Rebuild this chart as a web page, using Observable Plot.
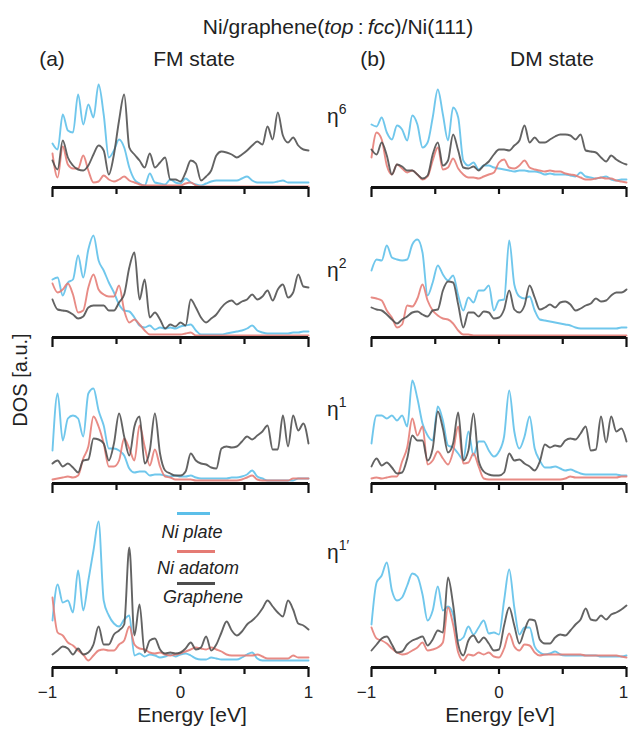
<!DOCTYPE html>
<html><head><meta charset="utf-8">
<script src="https://cdn.jsdelivr.net/npm/d3@7"></script>
<script src="https://cdn.jsdelivr.net/npm/@observablehq/plot@0.6"></script>
<style>
body{margin:0;background:#fff;}
#wrap{position:relative;width:629px;height:733px;font-family:"Liberation Sans",Arial,sans-serif;color:#222;overflow:hidden;background:#fff;}
.t{position:absolute;white-space:nowrap;line-height:1;transform:translate(-50%,-50%);}
.panel{position:absolute;}
.leg{position:absolute;height:3px;}
</style></head><body><div id="wrap"></div>
<script>
// Energy grid (eV)
const energy = [-1,-0.96,-0.92,-0.88,-0.84,-0.8,-0.76,-0.72,-0.68,-0.64,-0.6,-0.56,-0.52,-0.48,-0.44,-0.4,-0.36,-0.32,-0.28,-0.24,-0.2,-0.16,-0.12,-0.08,-0.04,0,0.04,0.08,0.12,0.16,0.2,0.24,0.28,0.32,0.36,0.4,0.44,0.48,0.52,0.56,0.6,0.64,0.68,0.72,0.76,0.8,0.84,0.88,0.92,0.96,1];
const rowLabels = ["6", "2", "1", "1′"];
const stateLabels = ["FM state", "DM state"];
const seriesNames = ["Ni plate", "Ni adatom", "Graphene"];
const seriesColors = ["#5cbfe9", "#e57b74", "#4d4d4d"];
const endTicks = [-1, 1];
const midTicks = [-0.5, 0, 0.5];
const tickLabelValues = [-1, 0, 1];
const tickLabels = ["−1", "0", "1"];

// DOS values (a.u.), FM state
const fmEta6Plate = [44,38,73,57,55,93,63,83,70,103, 73,30,37,48,40,20,8,4,2,14, 5,4,3,8,5,4,9,5,3,2, 4,6,7,7,7,7,7,9,11,7, 5,5,5,5,6,7,5,5,5,5, 5];
const fmEta6Adatom = [34,10,41,23,19,19,32,17,5,6, 12,8,6,8,11,7,5,3,2,2, 2,2,2,2,2,2,4,5,2,1, 1,1,1,1,1,1,1,1,1,1, 1,1,1,1,1,1,1,1,1,1, 1];
const fmEta6Graphene = [27,18,47,30,22,18,17,22,33,42, 37,13,33,67,93,40,33,27,20,34, 20,25,30,8,8,6,15,27,24,7, 11,17,32,36,35,33,30,33,37,42, 46,43,61,48,75,52,45,50,42,38, 37];
const fmEta2Plate = [58,60,42,55,58,82,60,88,102,77, 67,55,45,33,27,26,20,12,10,12, 8,10,9,10,9,11,12,13,7,3, 3,3,3,3,4,5,6,7,9,12, 7,5,4,4,4,4,4,5,5,6, 6];
const fmEta2Adatom = [54,45,48,54,43,25,27,50,63,48, 43,41,41,52,27,15,18,13,7,3, 3,3,3,3,3,3,4,5,2,2, 2,2,2,2,2,2,2,2,2,2, 2,2,2,2,2,2,2,2,2,2, 2];
const fmEta2Graphene = [38,28,27,26,23,19,21,30,32,32, 32,27,27,35,43,70,85,38,58,20, 25,18,9,13,11,15,12,38,30,20, 15,19,23,30,35,37,33,36,38,43, 38,41,47,37,48,53,40,45,63,51, 50];
const fmEta1Plate = [33,90,43,65,68,65,47,90,95,73, 58,35,35,33,28,15,11,12,12,8, 9,9,8,7,8,7,7,8,6,5, 5,5,5,5,5,6,6,7,9,13, 7,5,3,3,3,3,3,3,5,5, 5];
const fmEta1Adatom = [4,5,6,7,6,8,25,37,67,57, 40,17,17,23,45,35,23,58,37,18, 34,17,7,6,4,4,4,4,3,3, 3,3,3,3,3,3,3,4,6,8, 4,3,3,3,3,3,3,5,5,5, 5];
const fmEta1Graphene = [20,23,17,20,16,11,23,24,45,44, 40,23,40,70,47,28,57,67,20,33, 70,30,13,10,8,8,12,30,23,20, 19,16,15,35,37,36,37,42,47,44, 48,52,58,34,34,68,37,68,53,60, 40];
const fmEta1pPlate = [47,83,65,67,55,97,57,87,117,146, 67,52,44,41,48,52,12,14,11,13, 12,10,11,13,11,13,14,12,9,8, 8,10,9,8,8,8,8,10,13,15, 9,7,7,7,7,7,7,7,7,7, 7];
const fmEta1pAdatom = [70,35,32,25,22,17,13,7,12,17, 18,17,17,23,27,41,23,19,18,15, 14,15,13,12,13,14,16,18,20,19, 18,20,18,16,13,12,12,12,12,12, 13,11,9,9,9,9,9,12,10,10, 10];
const fmEta1pGraphene = [13,17,21,19,13,19,13,15,23,41, 23,23,33,37,43,120,32,63,15,27, 29,18,14,15,14,15,19,25,18,20, 31,17,23,35,46,37,32,36,43,47, 52,59,67,61,55,51,67,58,44,42, 38];

// DOS values (a.u.), DM state
const dmEta6Plate = [63,61,70,55,48,62,58,47,72,63, 40,45,70,98,73,47,80,70,27,22, 25,18,22,22,20,19,18,17,16,17, 17,16,16,15,13,14,13,13,13,12, 11,15,11,10,9,10,11,8,7,8, 8];
const dmEta6Adatom = [30,55,48,22,13,23,19,15,17,13, 8,11,27,40,18,20,29,19,13,10, 10,9,11,13,15,25,28,20,19,22, 27,20,18,17,16,17,16,16,14,13, 12,10,8,8,9,10,9,9,7,6, 5];
const dmEta6Graphene = [38,33,45,32,13,23,21,17,17,13, 9,12,33,45,22,27,53,37,20,19, 21,17,22,26,33,38,38,37,42,47, 62,45,50,45,45,48,51,53,53,52, 48,53,37,36,35,30,26,32,28,25, 23];
const dmEta2Plate = [67,78,77,92,80,78,77,78,93,98, 85,42,55,72,63,57,62,42,27,40, 35,47,47,52,27,37,38,97,53,41, 39,41,27,18,17,16,15,14,13,12, 10,9,9,9,9,9,9,9,9,10, 10];
const dmEta2Adatom = [40,39,37,27,20,10,13,32,31,39, 53,37,27,22,19,18,14,7,3,3, 2,2,2,2,2,2,2,2,2,2, 2,2,2,2,2,2,2,2,2,2, 2,2,2,2,2,2,2,2,2,2, 2];
const dmEta2Graphene = [30,28,27,23,18,14,18,21,25,26, 23,21,27,28,47,56,55,33,10,25, 25,21,26,25,19,20,28,47,28,25, 32,52,40,28,30,33,30,35,36,33, 27,29,32,34,39,36,37,42,45,45, 48];
const dmEta1Plate = [40,68,68,65,68,63,68,57,103,85, 60,48,43,77,63,38,36,30,24,52, 28,42,42,33,27,32,47,93,52,35, 47,67,35,23,16,16,17,15,13,14, 12,10,9,9,9,9,9,9,9,8, 8];
const dmEta1Adatom = [5,6,5,6,7,7,22,36,65,48, 57,19,23,32,25,19,32,57,20,21, 30,17,5,4,4,4,4,4,4,4, 4,4,4,4,4,4,4,4,5,7, 6,6,6,6,6,6,6,6,6,7, 7];
const dmEta1Graphene = [17,25,18,21,16,10,11,25,48,43, 43,23,35,72,55,31,40,71,23,33, 70,23,12,9,8,8,11,30,23,24, 20,17,13,22,39,36,38,37,43,45, 44,50,57,33,34,67,41,67,52,55, 42];
const dmEta1pPlate = [43,85,92,105,77,67,70,82,94,91, 73,47,57,81,57,61,53,27,30,41, 33,40,47,34,35,33,67,98,60,33, 40,40,21,15,13,14,16,13,12,12, 12,12,12,12,12,11,11,11,11,11, 12];
const dmEta1pAdatom = [40,29,27,24,19,15,13,14,17,20, 25,17,18,20,25,60,43,15,7,13, 12,15,13,15,11,10,19,34,21,17, 23,22,15,12,13,13,13,13,13,13, 13,13,12,12,12,12,12,12,12,11, 10];
const dmEta1pGraphene = [17,23,29,31,23,15,16,23,27,29, 31,22,28,37,35,90,63,23,12,27, 32,25,30,24,17,18,42,60,42,24, 37,48,47,28,24,24,30,33,32,37, 43,48,59,48,47,52,48,53,55,58, 62];

const panelsData = [
  [[fmEta6Plate, fmEta6Adatom, fmEta6Graphene], [dmEta6Plate, dmEta6Adatom, dmEta6Graphene]],
  [[fmEta2Plate, fmEta2Adatom, fmEta2Graphene], [dmEta2Plate, dmEta2Adatom, dmEta2Graphene]],
  [[fmEta1Plate, fmEta1Adatom, fmEta1Graphene], [dmEta1Plate, dmEta1Adatom, dmEta1Graphene]],
  [[fmEta1pPlate, fmEta1pAdatom, fmEta1pGraphene], [dmEta1pPlate, dmEta1pAdatom, dmEta1pGraphene]]
];

// layout
const wrap = document.getElementById("wrap");
const font = '"Liberation Sans", Arial, sans-serif';
const rowAxisY = [187, 337, 483, 667];
const rowPlotH = [115, 115, 115, 150];
const cols = [{left: 0, width: 320, ml: 52, mr: 12}, {left: 320, width: 309, ml: 51, mr: 3}];

function addText(html, x, y, size, extra) {
  const d = document.createElement("div");
  d.className = "t";
  d.style.left = x + "px"; d.style.top = y + "px"; d.style.fontSize = size + "px";
  if (extra) Object.assign(d.style, extra);
  d.innerHTML = html;
  wrap.appendChild(d);
  return d;
}

panelsData.forEach((row, r) => {
  row.forEach((series, c) => {
    const col = cols[c];
    const bottom = r === 3;
    const mb = bottom ? 40 : 12;
    const H = rowPlotH[r];
    const marks = series.map((vals, s) =>
      Plot.line(energy.map((e, i) => ({e, v: vals[i]})), {
        x: "e", y: "v", stroke: seriesColors[s], strokeWidth: 1.9, strokeOpacity: 0.88, curve: "monotone-x"
      })
    );
    marks.push(Plot.ruleX(endTicks, {y1: 0, y2: -10, stroke: "#111", strokeWidth: 2.2}));
    marks.push(Plot.ruleX(midTicks, {y1: 0, y2: -7, stroke: "#111", strokeWidth: 2.2}));
    marks.push(Plot.ruleY([0], {stroke: "#111", strokeWidth: 2.8}));
    if (bottom) {
      const labs = tickLabelValues.map((e, i) => ({e, label: tickLabels[i]}));
      marks.push(Plot.text(labs.filter(d => d.e === -1), {x: "e", y: () => 0, text: "label", dy: 25, dx: -5, fontSize: 17, fill: "#222"}));
      marks.push(Plot.text(labs.filter(d => d.e === 0), {x: "e", y: () => 0, text: "label", dy: 25, fontSize: 17, fill: "#222"}));
      marks.push(Plot.text(labs.filter(d => d.e === 1), {x: "e", y: () => 0, text: "label", dy: 25, dx: c === 1 ? -3 : 0, fontSize: 17, fill: "#222"}));
    }
    const svg = Plot.plot({
      width: col.width, height: H + mb,
      marginTop: 0, marginBottom: mb, marginLeft: col.ml, marginRight: col.mr,
      x: {domain: [-1, 1], axis: null},
      y: {domain: [0, H], axis: null},
      style: {fontFamily: font, overflow: "visible", background: "transparent"},
      marks
    });
    svg.classList.add("panel");
    svg.style.left = col.left + "px";
    svg.style.top = (rowAxisY[r] - H) + "px";
    wrap.appendChild(svg);
  });
});

// texts
addText('Ni/graphene(<i>top</i>&#8201;:&#8201;<i>fcc</i>)/Ni(111)', 338, 26, 21);
addText('(a)', 52, 58, 21);
addText(stateLabels[0], 194, 58, 21);
addText('(b)', 373, 58, 21);
addText(stateLabels[1], 552, 58, 21);
const etaY = [115, 269, 408, 551];
rowLabels.forEach((l, i) => addText('η<sup style="font-size:14px;vertical-align:9px;line-height:0">' + l + '</sup>', 327, etaY[i], 21, {transform: "translate(0,-50%)"}));
addText('DOS [a.u.]', 20, 380, 20, {transform: "translate(-50%,-50%) rotate(-90deg)"});
addText('Energy [eV]', 192, 714, 21);
addText('Energy [eV]', 500, 714, 21);

// legend (inside FM η1′ panel)
const legY = [513, 551, 583];
const legX = [[177, 210], [177, 215], [177, 215]];
const legTextY = [532, 568, 597];
const legTextX = [192, 198, 203];
seriesNames.forEach((n, i) => {
  const l = document.createElement("div");
  l.className = "leg";
  l.style.left = legX[i][0] + "px"; l.style.width = (legX[i][1] - legX[i][0]) + "px";
  l.style.top = (legY[i] - 1.5) + "px"; l.style.background = seriesColors[i];
  wrap.appendChild(l);
  addText('<i>' + n + '</i>', legTextX[i], legTextY[i], 18);
});
</script></body></html>
